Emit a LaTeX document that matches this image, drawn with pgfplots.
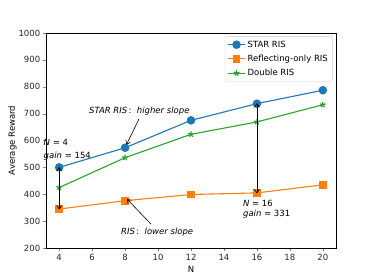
\documentclass[border=0pt]{standalone}
\usepackage{fontspec}
\setmainfont{DejaVu Sans}
\usepackage{pgfplots}
\pgfplotsset{compat=1.18}
\usetikzlibrary{arrows.meta}
\definecolor{c0}{HTML}{1F77B4}
\definecolor{c1}{HTML}{FF7F0E}
\definecolor{c2}{HTML}{2CA02C}
\begin{document}
\fontsize{8.5}{10}\selectfont
\begin{tikzpicture}
\begin{axis}[
  set layers,
  scale only axis, width=290pt, height=215pt,
  xmin=3.2, xmax=20.8, ymin=200, ymax=1000,
  xtick={4,6,...,20}, ytick={200,300,...,1000},
  tick align=outside, major tick length=2.8pt, tick pos=left,
  axis line style={line width=0.5pt},
  xlabel={N}, ylabel={Average Reward},
  clip=false,
  /pgf/number format/assume math mode=true,
  /pgf/number format/1000 sep={},
  tick label style={font=\fontsize{8.5}{10}\selectfont, color=black!85},
  label style={font=\fontsize{8.5}{10}\selectfont},
  ylabel style={yshift=-4pt},
  legend style={at={(rel axis cs:0.988,0.985)}, anchor=north east,
    draw=black!20, rounded corners=2pt, font=\fontsize{8.5}{10}\selectfont,
    row sep=2.5pt, inner sep=2.5pt},
  legend cell align=left,
]
\coordinate (ll) at (rel axis cs:0,0);
\coordinate (ur) at (rel axis cs:1,1);
\addplot[c0, line width=1.1pt, mark=*, mark size=3.7pt, mark options={fill=c0, draw=c0}]
  coordinates {(4,500) (8,573) (12,675) (16,737) (20,787)};
\addlegendentry{STAR RIS}
\addplot[c1, line width=1.1pt, mark=square*, mark size=3.4pt, mark options={fill=c1, draw=c1}]
  coordinates {(4,345) (8,376) (12,399) (16,405) (20,435)};
\addlegendentry{Reflecting-only RIS}
\addplot[c2, line width=1.1pt, mark=star, mark size=3pt, mark options={fill=c2, draw=c2, line width=1.2pt}]
  coordinates {(4,425) (8,536) (12,623) (16,669) (20,733)};
\addlegendentry{Double RIS}
\begin{pgfonlayer}{axis foreground}
\draw[{Straight Barb[length=3.5pt,width=5pt]}-{Straight Barb[length=3.5pt,width=5pt]}, line width=0.7pt] (axis cs:4,502) -- (axis cs:4,343);
\draw[{Straight Barb[length=3.5pt,width=5pt]}-{Straight Barb[length=3.5pt,width=5pt]}, line width=0.7pt] (axis cs:16,739) -- (axis cs:16,403);
\draw[-{Straight Barb[length=3.5pt,width=5pt]}, line width=0.6pt] (axis cs:8.84,680) -- (axis cs:8.08,584);
\draw[-{Straight Barb[length=3.5pt,width=5pt]}, line width=0.6pt] (axis cs:9.57,289) -- (axis cs:8.12,382);
\end{pgfonlayer}
\node[anchor=west, inner sep=0pt] at (axis cs:3.05,594) {\textit{N} = 4};
\node[anchor=west, inner sep=0pt] at (axis cs:3.05,542) {\textit{gain} = 154};
\node[anchor=west, inner sep=0pt] at (axis cs:15.15,367) {\textit{N} = 16};
\node[anchor=west, inner sep=0pt] at (axis cs:15.15,326) {\textit{gain} = 331};
\node[anchor=west, inner sep=0pt] at (axis cs:5.81,709) {\textit{STAR RIS}\,:\ \ \textit{higher slope}};
\node[anchor=west, inner sep=0pt] at (axis cs:7.75,259) {\textit{RIS}\,:\ \ \textit{lower slope}};
\end{axis}
\useasboundingbox ([xshift=-46pt,yshift=-31pt]ll) rectangle ([xshift=38pt,yshift=33pt]ur);
\end{tikzpicture}
\end{document}
